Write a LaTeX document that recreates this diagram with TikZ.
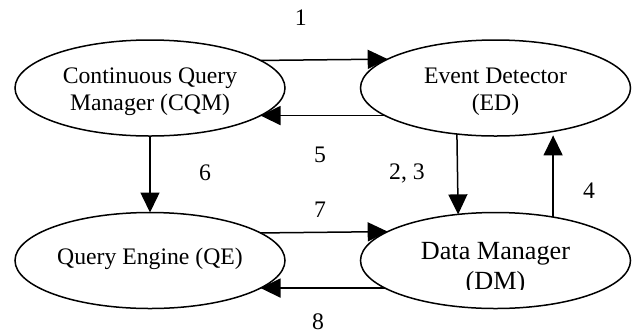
\documentclass[tikz,border=0pt]{standalone}
\usepackage{fontspec}
\setmainfont{Liberation Serif}
\usetikzlibrary{arrows.meta,shapes.geometric}
\begin{document}
\begin{tikzpicture}[x=1bp,y=-1bp,
  ell/.style={draw,ellipse,line width=1.5bp,minimum width=270bp,minimum height=96bp,inner sep=0pt,outer sep=0pt},
  txt/.style={anchor=base,inner sep=0pt,font=\fontsize{23.7bp}{27bp}\selectfont},
  bigtxt/.style={anchor=base,inner sep=0pt,font=\fontsize{26.2bp}{30bp}\selectfont},
  lbl/.style={inner sep=0pt,font=\fontsize{23.7bp}{27bp}\selectfont},
  conn/.style={line width=1.5bp,-{Triangle[length=20bp,width=19bp]}}]
\useasboundingbox (0,0) rectangle (634,333);
% ellipses
\node[ell] (cqm) at (150,88) {};
\node[ell] (ed) at (495.5,88) {};
\node[ell] (qe) at (150,260.5) {};
\node[ell] (dm) at (495.5,260.5) {};
% texts
\node[txt] (cqm1) at (150,83.3) {Continuous Query};
\node[txt] (cqm2) at (150,110) {Manager (CQM)};
\node[txt] (ed1) at (495.5,83.3) {Event Detector};
\node[txt] (ed2) at (495.5,110) {(ED)};
\node[txt] (qe1) at (150,264.7) {Query Engine (QE)};
\node[bigtxt] (dm1) at (495.5,259) {Data Manager};
\begin{scope}
  \clip (380,262) rectangle (620,289.5);
  \node[bigtxt] (dm2) at (495.5,289) {(DM)};
\end{scope}
% connectors
\draw[conn] (cqm.14.9) -- (ed.165.1);
\draw[conn] (ed.194.9) -- (cqm.-14.9);
\draw[conn] (cqm.south) -- (qe.north);
\draw[conn] (qe.14.9) -- (dm.165.1);
\draw[conn] (dm.194.9) -- (qe.-14.9);
\draw[conn] (ed.230.3) -- (dm.129.7);
\draw[conn,shorten >=4bp] (dm.37) -- (ed.323);
% labels
\node[lbl] (l1) at (300.7,17.5) {1};
\node[lbl] (l5) at (320,155) {5};
\node[lbl] (l6) at (205,173) {6};
\node[lbl] (l23) at (407,173) {2, 3};
\node[lbl] (l4) at (589,191) {4};
\node[lbl] (l7) at (320,210) {7};
\node[lbl] (l8) at (318,321.5) {8};
\end{tikzpicture}
\end{document}
